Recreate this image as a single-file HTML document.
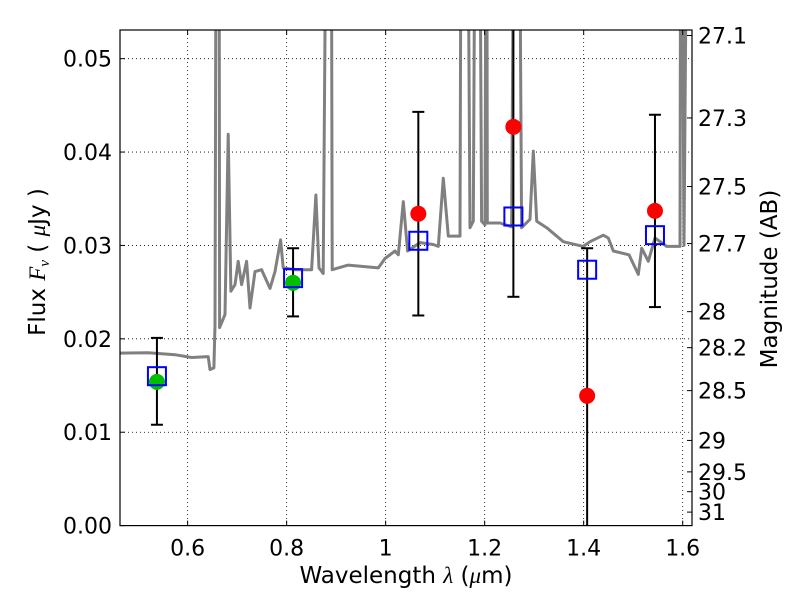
<!DOCTYPE html>
<html><head><meta charset="utf-8"><style>
body{margin:0;background:#fff;}
svg text{font-family:"DejaVu Sans","Liberation Sans",sans-serif;fill:#000;}
</style></head><body>
<svg id="chart" width="800" height="600" xmlns="http://www.w3.org/2000/svg">
<rect width="800" height="600" fill="#fff"/>
<g id="grid"></g>
<g id="plot"></g>
<g id="axes"></g>
</svg>
<script>
const specWave=[0.4632,0.5204,0.5743,0.6081,0.6416,0.6451,0.6531,0.6552,0.6586,0.6632,0.6646,0.6754,0.6820,0.6875,0.6956,0.7022,0.7091,0.7192,0.7259,0.7360,0.7495,0.7663,0.7764,0.7879,0.7931,0.8168,0.8505,0.8592,0.8653,0.8739,0.8828,0.8895,0.8921,0.9244,0.9851,0.9986,1.0188,1.0255,1.0356,1.0444,1.0693,1.0962,1.1063,1.1164,1.1265,1.1501,1.1535,1.1636,1.1703,1.1770,1.1824,1.1879,1.1939,1.2006,1.2040,1.2053,1.2309,1.2545,1.2612,1.2679,1.2747,1.2915,1.2982,1.3051,1.3253,1.3588,1.3992,1.4127,1.4396,1.4497,1.4598,1.4915,1.5103,1.5172,1.5305,1.5440,1.5677,1.5945,1.5966,1.6026,1.6113,1.6188];
const specFlux=[0.01847,0.0185,0.0183,0.0180,0.0181,0.0167,0.0169,0.0215,0.09,0.09,0.0212,0.0226,0.0419,0.0251,0.0258,0.0283,0.0258,0.0283,0.0233,0.0272,0.0274,0.0254,0.0272,0.0306,0.0276,0.0274,0.0274,0.0354,0.0276,0.0270,0.09,0.09,0.0274,0.0279,0.0276,0.0286,0.0294,0.0290,0.0347,0.0294,0.0303,0.0301,0.0299,0.0372,0.0310,0.0310,0.09,0.09,0.0319,0.0326,0.09,0.09,0.0326,0.0322,0.09,0.0324,0.0324,0.0320,0.09,0.09,0.0319,0.0328,0.0401,0.0326,0.0319,0.0304,0.0299,0.0304,0.0311,0.0308,0.0294,0.0290,0.0269,0.0297,0.0283,0.0308,0.0299,0.0299,0.09,0.0300,0.09,0.09];
const bandWave=[0.538,0.813,1.066,1.258,1.407,1.544];
const obsFlux=[0.01539,0.0260,0.0334,0.0427,0.0139,0.0337];
const obsDetected=[true,true,false,false,false,false];
const modelFlux=[0.0160,0.0265,0.0305,0.0331,0.0274,0.0311];
const errLo=[0.0108,0.0224,0.0225,0.0245,-0.01,0.0234];
const errHi=[0.0201,0.0297,0.0443,0.065,0.0297,0.0440];
const xTicks=[0.6,0.8,1.0,1.2,1.4,1.6];
const xTickLabels=["0.6","0.8","1","1.2","1.4","1.6"];
const yTicks=[0,0.01,0.02,0.03,0.04,0.05];
const yTickLabels=["0.00","0.01","0.02","0.03","0.04","0.05"];
const magTicks=[27.1,27.3,27.5,27.7,28,28.2,28.5,29,29.5,30,31];
const magTickLabels=["27.1","27.3","27.5","27.7","28","28.2","28.5","29","29.5","30","31"];

const L=120,R=692,T=30,B=525.6;
const X0=0.4634,X1=1.6188,Y0=0,Y1=0.05307;
const xs=v=>L+(v-X0)/(X1-X0)*(R-L);
const ys=v=>B-(v-Y0)/(Y1-Y0)*(B-T);
const magToFlux=m=>Math.pow(10,(23.9-m)/2.5);
const NS="http://www.w3.org/2000/svg";
function mk(tag,attrs,parent){const e=document.createElementNS(NS,tag);for(const k in attrs)e.setAttribute(k,attrs[k]);parent.appendChild(e);return e;}
const grid=document.getElementById('grid'),plot=document.getElementById('plot'),axes=document.getElementById('axes');

const defs=mk('defs',{},document.getElementById('chart'));
const cp=mk('clipPath',{id:'clip'},defs);mk('rect',{x:L,y:T,width:R-L,height:B-T},cp);
plot.setAttribute('clip-path','url(#clip)');

xTicks.forEach((t,i)=>{const x=xs(t);
 const g=mk('line',{x1:x,x2:x,y1:T,y2:B,stroke:'#000','stroke-width':0.8,'stroke-dasharray':'1,3'},grid);
 
 mk('line',{x1:x,x2:x,y1:B,y2:B-5,stroke:'#000'},axes);mk('line',{x1:x,x2:x,y1:T,y2:T+5,stroke:'#000'},axes);
 const tx=mk('text',{x:x,y:B+30,'text-anchor':'middle','font-size':22},axes);tx.textContent=xTickLabels[i];
 });
yTicks.forEach((t,i)=>{const y=ys(t);
 if(i>0){const g=mk('line',{x1:L,x2:R,y1:y,y2:y,stroke:'#000','stroke-width':0.8,'stroke-dasharray':'1,3'},grid);
 }
 mk('line',{x1:L,x2:L+5,y1:y,y2:y,stroke:'#000'},axes);
 const tx=mk('text',{x:L-8,y:y+8,'text-anchor':'end','font-size':22},axes);tx.textContent=yTickLabels[i];
 });
magTicks.forEach((m,i)=>{const y=ys(magToFlux(m));
 mk('line',{x1:R,x2:R-5,y1:y,y2:y,stroke:'#000'},axes);
 const tx=mk('text',{x:R+6,y:y+8,'text-anchor':'start','font-size':22},axes);tx.textContent=magTickLabels[i];
 });

let d='';specWave.forEach((w,i)=>{d+=(i?'L':'M')+xs(w).toFixed(1)+','+ys(specFlux[i]).toFixed(1);});
const sp=mk('path',{d:d,fill:'none',stroke:'#808080','stroke-width':3,'stroke-linejoin':'round'},plot);


bandWave.forEach((w,i)=>{const x=xs(w);
 const eb=mk('g',{},plot);
 mk('line',{x1:x,x2:x,y1:ys(errLo[i]),y2:ys(errHi[i]),stroke:'#000','stroke-width':2},eb);
 [errLo[i],errHi[i]].forEach(v=>mk('line',{x1:x-6,x2:x+6,y1:ys(v),y2:ys(v),stroke:'#000','stroke-width':2},eb));
 const c=mk('circle',{cx:x,cy:ys(obsFlux[i]),r:8,fill:obsDetected[i]?'#00bf00':'#ff0000'},plot);
 
 const s=mk('rect',{x:x-9,y:ys(modelFlux[i])-9,width:18,height:18,fill:'none',stroke:'#0000ff','stroke-width':2},plot);
 });

const fr=mk('rect',{x:L,y:T,width:R-L,height:B-T,fill:'none',stroke:'#000','stroke-width':1.2},axes);

let t=mk('text',{x:406,y:583,'text-anchor':'middle','font-size':23},axes);
t.innerHTML='Wavelength  <tspan font-family="Liberation Serif" font-style="italic">λ</tspan> (<tspan font-family="Liberation Serif" font-style="italic">μ</tspan>m)';

t=mk('text',{x:0,y:0,'text-anchor':'middle','font-size':23,transform:'translate(45,262) rotate(-90)'},axes);
t.innerHTML='Flux  <tspan font-family="Liberation Serif" font-style="italic">F</tspan><tspan font-family="Liberation Serif" font-style="italic" font-size="15" dy="4">ν</tspan><tspan dy="-4">  ( </tspan><tspan font-family="Liberation Serif" font-style="italic">μ</tspan>Jy )';

t=mk('text',{x:0,y:0,'text-anchor':'middle','font-size':23,transform:'translate(777,279) rotate(-90)'},axes);
t.textContent='Magnitude (AB)';

</script>
</body></html>
